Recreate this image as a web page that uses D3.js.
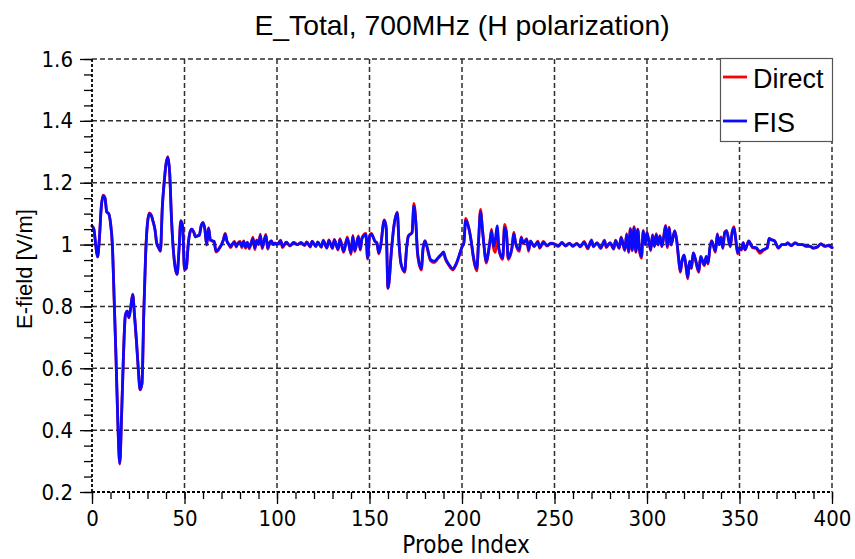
<!DOCTYPE html>
<html>
<head>
<meta charset="utf-8">
<script src="https://cdn.jsdelivr.net/npm/d3@7"></script>
<style>
  body { margin: 0; background: #fff; }
  svg { display: block; }
</style>
</head>
<body>
<svg id="chart" width="855" height="559"></svg>
<script>
// Probe positions along the scan line and the total E-field at each one
const probeIndex = [
  0,1,2,3,4,5,6,7,8,9,10,11,12,13,14,15,16,17,18,19,20,21,22,23,24,25,26,27,28,29,
  30,31,32,33,34,35,36,37,38,39,40,41,42,43,44,45,46,47,48,49,50,51,52,53,54,55,56,57,58,59,
  60,61,62,63,64,65,66,67,68,69,70,71,72,73,74,75,76,77,78,79,80,81,82,83,84,85,86,87,88,89,
  90,91,92,93,94,95,96,97,98,99,100,102,103,105,107,109,111,113,115,116,118,119,121,122,124,125,127,128,130,131,
  133,134,136,138,140,141,142,144,145,146,148,149,150,151,153,154,155,156,158,159,160,162,163,165,166,167,169,170,171,173,
  174,175,176,178,179,180,181,183,185,187,189,190,191,193,195,197,199,200,201,202,203,205,206,208,209,210,211,212,213,215,
  216,217,218,219,220,222,223,224,225,227,228,229,231,232,233,235,236,237,239,241,242,244,246,248,250,252,254,256,258,260,
  262,264,266,268,270,271,273,275,277,278,280,282,283,285,286,288,289,290,291,292,293,294,295,296,297,298,299,300,302,303,
  304,305,306,307,308,309,310,311,312,313,315,316,317,318,319,320,321,322,323,324,325,326,328,329,331,332,333,334,335,337,
  338,339,340,341,342,343,345,346,347,348,349,350,351,352,353,355,357,359,361,363,365,366,367,369,371,373,375,376,378,380,
  382,384,386,388,390,392,394,396,398,400
];

const fisField = [
  1.06,1.05,1.0,0.96,1.02,1.12,1.158,1.15,1.105,1.10,1.07,1.0,0.82,0.63,0.42,0.293,0.45,0.64,0.77,0.785,0.765,0.80,0.837,0.77,0.69,0.60,0.532,0.55,0.78,0.97,
  1.07,1.10,1.095,1.075,1.05,1.005,0.99,0.98,1.12,1.20,1.26,1.282,1.23,1.08,0.98,0.925,0.905,0.98,1.075,1.06,0.92,0.925,1.0,1.04,1.05,1.04,1.025,1.028,1.03,1.06,
  1.07,1.05,1.0,1.053,1.015,1.012,1.01,0.98,0.982,0.99,1.0,1.015,1.034,1.01,1.0,0.993,1.002,1.008,0.995,1.005,1.008,0.994,1.01,0.992,1.006,0.99,1.004,1.019,0.989,1.013,
  1.0,1.029,0.991,1.012,1.029,0.989,1.006,1.011,1.0,1.005,1.0,1.012,0.993,1.008,0.997,1.006,1.0,1.006,0.998,1.008,0.994,1.01,0.995,1.008,0.993,1.012,0.99,1.013,0.99,1.015,
  0.985,1.016,0.978,1.02,0.973,1.027,0.98,1.025,0.985,1.02,1.032,0.957,1.025,1.034,1.01,1.005,0.973,0.995,1.078,1.055,0.86,0.99,1.05,1.102,1.0,0.94,0.914,0.985,1.027,1.038,
  1.124,1.075,0.973,0.922,0.99,1.011,0.995,0.952,0.946,0.957,0.97,0.976,0.957,0.935,0.922,0.94,0.975,0.992,1.005,1.078,1.067,1.01,0.968,0.922,1.016,1.106,1.05,0.99,0.946,1.005,
  1.043,0.995,1.016,1.06,0.985,0.957,1.054,1.038,0.957,0.99,1.035,1.005,0.984,1.022,1.005,1.016,0.984,1.01,0.995,1.009,0.99,1.008,0.997,1.004,1.002,0.995,1.006,0.996,1.004,0.995,
  1.003,0.994,1.008,0.99,1.013,0.995,1.005,0.99,1.012,0.993,1.005,0.988,1.012,0.99,1.022,0.984,1.032,0.978,1.048,0.984,1.054,0.978,1.048,0.982,0.962,1.043,1.0,1.038,0.984,1.03,
  0.995,1.032,1.0,1.027,0.995,1.022,1.059,0.995,1.054,1.0,1.043,1.016,0.962,0.914,0.95,0.967,0.935,0.894,0.946,0.925,0.973,0.957,0.914,0.962,0.935,0.962,0.94,0.99,1.011,0.978,
  1.032,1.0,1.022,0.99,1.038,1.043,0.995,1.038,1.054,1.016,0.973,0.99,0.984,1.005,0.984,1.011,0.992,0.99,0.978,0.984,0.99,1.019,1.016,1.011,0.99,1.0,1.0,1.005,0.997,1.005,
  1.0,1.0,0.995,0.995,0.989,0.992,1.002,0.995,0.997,0.99
];

const directField = [
  1.06,1.05,1.0,0.96,1.02,1.12,1.16,1.152,1.105,1.10,1.07,1.0,0.82,0.63,0.42,0.29,0.45,0.64,0.77,0.785,0.763,0.80,0.84,0.77,0.69,0.60,0.53,0.55,0.78,0.97,
  1.07,1.102,1.095,1.075,1.05,1.003,0.99,0.978,1.12,1.20,1.26,1.284,1.23,1.08,0.98,0.923,0.903,0.98,1.078,1.06,0.918,0.923,1.0,1.04,1.05,1.04,1.025,1.028,1.03,1.06,
  1.072,1.05,0.998,1.055,1.015,1.012,1.01,0.976,0.98,0.99,1.0,1.015,1.036,1.01,1.0,0.99,1.002,1.01,0.992,1.005,1.01,0.99,1.012,0.988,1.008,0.986,1.004,1.024,0.984,1.015,
  1.0,1.034,0.986,1.012,1.033,0.985,1.006,1.013,1.0,1.005,1.0,1.014,0.99,1.008,0.995,1.007,1.0,1.006,0.997,1.009,0.992,1.011,0.993,1.009,0.991,1.014,0.988,1.015,0.987,1.017,
  0.982,1.019,0.975,1.025,0.968,1.03,0.977,1.028,0.982,1.023,1.036,0.953,1.027,1.036,1.01,1.005,0.97,0.995,1.08,1.055,0.858,0.99,1.05,1.105,1.0,0.937,0.91,0.985,1.028,1.04,
  1.133,1.078,0.968,0.918,0.99,1.013,0.993,0.948,0.942,0.955,0.968,0.974,0.953,0.932,0.918,0.938,0.973,0.992,1.007,1.085,1.07,1.01,0.962,0.915,1.018,1.114,1.055,0.99,0.94,1.005,
  1.05,0.99,0.975,1.05,0.982,0.952,1.065,1.042,0.952,0.99,1.04,1.003,0.978,1.025,1.003,1.019,0.978,1.012,0.993,1.011,0.988,1.01,0.995,1.005,1.002,0.994,1.007,0.995,1.005,0.994,
  1.004,0.992,1.01,0.986,1.015,0.993,1.006,0.987,1.014,0.99,1.006,0.985,1.014,0.987,1.025,0.98,1.035,0.974,1.052,0.98,1.058,0.975,1.05,0.978,0.956,1.046,1.0,1.04,0.98,1.032,
  0.993,1.035,0.998,1.029,0.993,1.024,1.062,0.99,1.056,0.998,1.045,1.016,0.958,0.91,0.948,0.965,0.932,0.889,0.944,0.922,0.972,0.955,0.91,0.96,0.932,0.96,0.937,0.99,1.013,0.975,
  1.035,1.0,1.025,0.987,1.04,1.046,0.993,1.04,1.058,1.016,0.97,0.99,0.982,1.006,0.982,1.012,0.99,0.987,0.972,0.982,0.99,1.02,1.017,1.012,0.988,1.0,1.0,1.006,0.996,1.006,
  1.0,1.0,0.994,0.994,0.988,0.991,1.002,0.994,0.997,0.99
];

const xMajorTicks = [0, 50, 100, 150, 200, 250, 300, 350, 400];
const xMinorTicks = d3.range(0, 401, 10);
const yMajorTicks = [0.2, 0.4, 0.6, 0.8, 1.0, 1.2, 1.4, 1.6];
const yMinorTicks = d3.range(0.2, 1.6001, 0.05);

const seriesNames = ["Direct", "FIS"];
const seriesColors = ["#ff0000", "#0a0aff"];
const chartTitle = "E_Total, 700MHz (H polarization)";
const xLabel = "Probe Index";
const yLabel = "E-field [V/m]";

const svg = d3.select("#chart");
const plotLeft = 92, plotRight = 832, plotTop = 59, plotBottom = 492;

const x = d3.scaleLinear().domain([0, 400]).range([plotLeft, plotRight]);
const y = d3.scaleLinear().domain([0.2, 1.6]).range([plotBottom, plotTop]);

const tickFont = "'DejaVu Sans Condensed', 'DejaVu Sans', sans-serif";
const textFont = "'Liberation Sans', Arial, sans-serif";

// dashed grid, including the top and right frame edges
const grid = svg.append("g")
  .attr("stroke", "#2e2e2e")
  .attr("stroke-width", 1.5)
  .attr("stroke-dasharray", "5,3")
  .attr("fill", "none");
grid.selectAll("line.v").data(xMajorTicks.filter(d => d > 0)).join("line")
  .attr("class", "v")
  .attr("x1", d => x(d)).attr("x2", d => x(d))
  .attr("y1", plotTop).attr("y2", plotBottom);
grid.selectAll("line.h").data(yMajorTicks.filter(d => d > 0.2)).join("line")
  .attr("class", "h")
  .attr("x1", plotLeft).attr("x2", plotRight)
  .attr("y1", d => y(d)).attr("y2", d => y(d));

// curves: Direct underneath, FIS on top
const line = d3.line()
  .x((d, i) => x(probeIndex[i]))
  .y(d => y(d))
  .curve(d3.curveMonotoneX);

[directField, fisField].forEach((vals, k) => {
  svg.append("path")
    .datum(vals)
    .attr("fill", "none")
    .attr("stroke", seriesColors[k])
    .attr("stroke-width", 2.8)
    .attr("stroke-linejoin", "round")
    .attr("stroke-linecap", "round")
    .attr("d", line);
});

// y axis
const yAxis = svg.append("g")
  .attr("transform", `translate(${plotLeft},0)`)
  .call(d3.axisLeft(y).tickValues(yMajorTicks).tickSize(12).tickPadding(7)
    .tickFormat(d => String(+d.toFixed(1))));
yAxis.select(".domain").remove();
yAxis.selectAll(".tick line").attr("stroke", "#000").attr("stroke-width", 1.3);
yAxis.selectAll("text").attr("font-family", tickFont).attr("font-size", 22).attr("fill", "#000");

const yMinor = svg.append("g")
  .attr("transform", `translate(${plotLeft},0)`)
  .call(d3.axisLeft(y).tickValues(yMinorTicks).tickSize(8).tickFormat(""));
yMinor.select(".domain").remove();
yMinor.selectAll(".tick line").attr("stroke", "#000").attr("stroke-width", 1.3);

// x axis
const xAxis = svg.append("g")
  .attr("transform", `translate(0,${plotBottom})`)
  .call(d3.axisBottom(x).tickValues(xMajorTicks).tickSize(12).tickPadding(6));
xAxis.select(".domain").remove();
xAxis.selectAll(".tick line").attr("stroke", "#000").attr("stroke-width", 1.3);
xAxis.selectAll("text").attr("font-family", tickFont).attr("font-size", 22).attr("fill", "#000");

const xMinor = svg.append("g")
  .attr("transform", `translate(0,${plotBottom})`)
  .call(d3.axisBottom(x).tickValues(xMinorTicks).tickSize(7).tickFormat(""));
xMinor.select(".domain").remove();
xMinor.selectAll(".tick line").attr("stroke", "#000").attr("stroke-width", 1.3);

// dashed axis lines
svg.append("line")
  .attr("x1", plotLeft).attr("x2", plotLeft).attr("y1", plotTop).attr("y2", plotBottom)
  .attr("stroke", "#000").attr("stroke-width", 1.8).attr("stroke-dasharray", "3,2");
svg.append("line")
  .attr("x1", plotLeft).attr("x2", plotRight).attr("y1", plotBottom).attr("y2", plotBottom)
  .attr("stroke", "#000").attr("stroke-width", 1.8).attr("stroke-dasharray", "3,2");

// titles
svg.append("text")
  .attr("x", 462).attr("y", 35)
  .attr("text-anchor", "middle")
  .attr("font-family", textFont).attr("font-size", 28.3)
  .text(chartTitle);

svg.append("text")
  .attr("x", 466).attr("y", 553)
  .attr("text-anchor", "middle")
  .attr("font-family", tickFont).attr("font-size", 24)
  .text(xLabel);

svg.append("text")
  .attr("transform", "translate(32,269) rotate(-90)")
  .attr("text-anchor", "middle")
  .attr("font-family", textFont).attr("font-size", 22)
  .text(yLabel);

// legend
const legend = svg.append("g");
legend.append("rect")
  .attr("x", 720.5).attr("y", 58.5).attr("width", 112).attr("height", 83)
  .attr("fill", "#fff").attr("stroke", "#555").attr("stroke-width", 1.2);
seriesNames.forEach((name, k) => {
  const cy = 77 + k * 44;
  legend.append("line")
    .attr("x1", 723).attr("x2", 747).attr("y1", cy).attr("y2", cy)
    .attr("stroke", seriesColors[k]).attr("stroke-width", 2.8);
  legend.append("text")
    .attr("x", 753).attr("y", cy + 11)
    .attr("font-family", textFont).attr("font-size", 27)
    .text(name);
});
</script>
</body>
</html>
